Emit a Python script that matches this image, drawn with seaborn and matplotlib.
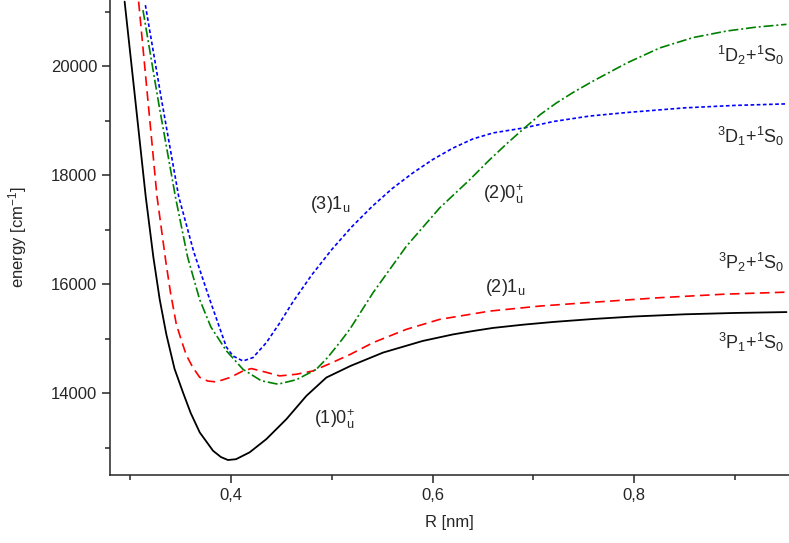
import numpy as np
import pandas as pd
import matplotlib
matplotlib.use("Agg")
import matplotlib.pyplot as plt
import seaborn as sns

# potential curves: R in nm, energy in cm^-1
r_black = [0.2945, 0.3050, 0.3154, 0.3230, 0.3293, 0.3359, 0.3440, 0.3524, 0.3600,
           0.3690, 0.3822, 0.3900, 0.3970, 0.4050, 0.4185, 0.4351, 0.4550, 0.4748,
           0.4946, 0.5185, 0.5508, 0.5900, 0.6200, 0.6400, 0.6600, 0.6900, 0.7200,
           0.7600, 0.8000, 0.8500, 0.9000, 0.9510]
e_black = [21190, 19400, 17616, 16500, 15723, 15080, 14450, 14015, 13640,
           13282, 12945, 12830, 12775, 12790, 12916, 13159, 13526, 13953,
           14289, 14502, 14747, 14960, 15080, 15143, 15200, 15260, 15310,
           15365, 15410, 15450, 15475, 15491]

r_red = [0.3084, 0.3175, 0.3266, 0.3355, 0.3400, 0.3458, 0.3510, 0.3557, 0.3620,
         0.3689, 0.3770, 0.3855, 0.3990, 0.4119, 0.4202, 0.4340, 0.4483, 0.4650,
         0.4813, 0.5000, 0.5185, 0.5409, 0.5740, 0.6070, 0.6567, 0.7062, 0.7526,
         0.8253, 0.8900, 0.9510]
e_red = [21190, 19400, 17616, 16400, 15850, 15266, 14960, 14700, 14480,
         14295, 14225, 14209, 14290, 14410, 14454, 14390, 14319, 14350,
         14410, 14560, 14716, 14930, 15174, 15357, 15509, 15601, 15663,
         15755, 15820, 15857]

r_blue = [0.3151, 0.3310, 0.3481, 0.3630, 0.3789, 0.3954, 0.4020, 0.4119, 0.4218,
          0.4351, 0.4483, 0.4615, 0.4800, 0.5000, 0.5200, 0.5400, 0.5600, 0.5800,
          0.6000, 0.6200, 0.6400, 0.6600, 0.6913, 0.7200, 0.7559, 0.7923, 0.8500,
          0.9000, 0.9510]
e_blue = [21126, 19400, 17616, 16600, 15723, 14850, 14685, 14593, 14655,
          14930, 15290, 15680, 16170, 16640, 17060, 17430, 17760, 18040,
          18290, 18500, 18670, 18780, 18874, 18990, 19090, 19154, 19240,
          19285, 19313]

r_green = [0.3127, 0.3285, 0.3451, 0.3570, 0.3689, 0.3800, 0.3954, 0.4119, 0.4300,
           0.4466, 0.4650, 0.4847, 0.4960, 0.5078, 0.5178, 0.5409, 0.5740, 0.6070,
           0.6368, 0.6566, 0.6740, 0.6913, 0.7070, 0.7228, 0.7400, 0.7590, 0.7923,
           0.8253, 0.8583, 0.8915, 0.9200, 0.9510]
e_green = [21035, 19300, 17586, 16500, 15723, 15220, 14780, 14440, 14230,
           14167, 14250, 14441, 14660, 14930, 15174, 15846, 16700, 17403,
           17921, 18288, 18590, 18874, 19120, 19330, 19530, 19730, 20060,
           20340, 20530, 20650, 20720, 20773]

x_major = [0.4, 0.6, 0.8]
x_major_labels = ["0,4", "0,6", "0,8"]
x_minor = [0.3, 0.5, 0.7, 0.9]
y_major = [14000, 16000, 18000, 20000]
y_minor = [13000, 15000, 17000, 19000, 21000]

# curve labels
state_labels = [r"(3)1$_{u}$", r"(2)0$_{u}^{+}$", r"(2)1$_{u}$", r"(1)0$_{u}^{+}$"]
state_r = [0.498, 0.670, 0.672, 0.503]
state_e = [17463, 17647, 15943, 13526]
asym_labels = [r"$^{1}$D$_{2}$+$^{1}$S$_{0}$", r"$^{3}$D$_{1}$+$^{1}$S$_{0}$",
               r"$^{3}$P$_{2}$+$^{1}$S$_{0}$", r"$^{3}$P$_{1}$+$^{1}$S$_{0}$"]
asym_e = [20210, 18709, 16400, 14936]
asym_r = 0.9490

sns.set_style("ticks")
plt.rcParams['font.family'] = ['Liberation Sans', 'DejaVu Sans']
plt.rcParams['mathtext.default'] = 'regular'
plt.rcParams['mathtext.fontset'] = 'custom'
plt.rcParams['mathtext.rm'] = 'Liberation Sans'

fig = plt.figure(figsize=(7.89, 5.43), dpi=100)
ax = fig.add_axes([110 / 789, 68 / 543, 679 / 789, 475 / 543])

curves = [
    (r_black, e_black, "black", "-", 1.3),
    (r_red, e_red, "#ff0000", (0, (5.8, 3.2)), 1.2),
    (r_blue, e_blue, "#0000ff", (0, (2.2, 1.5)), 1.2),
    (r_green, e_green, "#008000", (0, (6.0, 1.7, 1.2, 1.7)), 1.2),
]
for rr, ee, col, ls, lw in curves:
    df = pd.DataFrame({"R": rr, "E": ee})
    sns.lineplot(data=df, x="R", y="E", ax=ax, sort=False, color=col,
                 linestyle=ls, linewidth=lw)

ax.set_xlim(0.28, 0.9535)
ax.set_ylim(12500, 21220)
ax.set_xticks(x_major)
ax.set_xticklabels(x_major_labels)
ax.set_xticks(x_minor, minor=True)
ax.set_yticks(y_major)
ax.set_yticks(y_minor, minor=True)
ax.tick_params(which="major", length=6, width=1.1, labelsize=12, pad=3)
ax.tick_params(which="minor", length=3.5, width=1.1)
for s in ["left", "bottom"]:
    ax.spines[s].set_linewidth(1.1)
sns.despine(ax=ax)

ax.set_xlabel("R [nm]", fontsize=12, labelpad=9)
ax.set_ylabel(r"energy [cm$^{-1}$]", fontsize=12, labelpad=16)

for t, r, e in zip(state_labels, state_r, state_e):
    ax.text(r, e, t, fontsize=13, ha="center", va="center")
for t, e in zip(asym_labels, asym_e):
    ax.text(asym_r, e, t, fontsize=13, ha="right", va="center")

fig.savefig("out.png", dpi=100)
